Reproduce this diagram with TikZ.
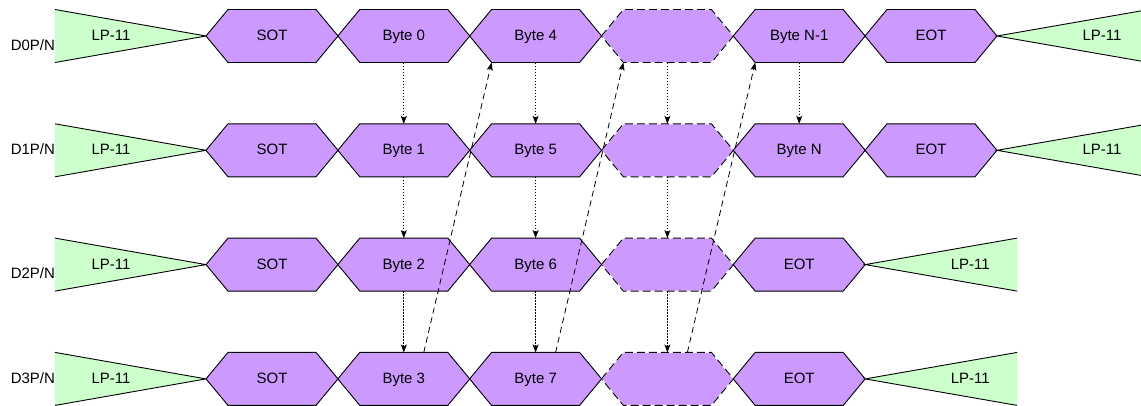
\documentclass[tikz,border=0pt]{standalone}
\usepackage{fontspec}
\setmainfont{Liberation Sans}
\usetikzlibrary{arrows.meta}
\definecolor{hexfill}{HTML}{CC99FF}
\definecolor{lpfill}{HTML}{CCFFCC}
\newcommand\hexa[5]{%
  \path[#5] (#2-66,#3) -- (#2-44,#3-26.5) -- (#2+44,#3-26.5) -- (#2+66,#3) -- (#2+44,#3+26.5) -- (#2-44,#3+26.5) -- cycle;
  \node[hexbody] (#1) at (#2,#3) {#4};}
\newcommand\lpleft[2]{% name, cy
  \path[lpfillonly] (55,#2-26.5) -- (206,#2) -- (55,#2+26.5) -- cycle;
  \path[lpedge] (55,#2-26.5) -- (206,#2) -- (55,#2+26.5);
  \node[txt] (#1) at (111,#2) {LP-11};}
\newcommand\lpright[3]{% name, apex x, cy
  \path[lpfillonly] (#2,#3) -- (#2+152,#3-26.5) -- (#2+152,#3+26.5) -- cycle;
  \path[lpedge] (#2+152,#3-26.5) -- (#2,#3) -- (#2+152,#3+26.5);
  \node[txt] (#1) at (#2+105,#3) {LP-11};}
\begin{document}
\begin{tikzpicture}[x=1pt,y=-1pt,
  txt/.style={font=\fontsize{15}{18}\selectfont, inner sep=0pt, outer sep=0pt, text height=12pt, text depth=2.8pt},
  hexbody/.style={txt, minimum width=88pt, minimum height=53pt},
  hexline/.style={draw=black, fill=hexfill, line width=0.9pt, line join=miter},
  dashhex/.style={fill=hexfill, draw=white, line width=0.9pt,
    postaction={draw=black, line width=0.9pt, dash pattern=on 8pt off 4pt}},
  lpfillonly/.style={fill=lpfill},
  lpedge/.style={draw=black, line width=0.9pt, line join=miter},
  lane/.style={txt, anchor=east},
  down/.style={-{Stealth[length=8pt,width=6pt,inset=2pt]}, line width=0.8pt, dash pattern=on 1.5pt off 1.5pt},
  skew/.style={-{Stealth[length=8pt,width=6pt,inset=2pt]}, line width=0.8pt, dash pattern=on 6pt off 4pt}]
\useasboundingbox (0,0) rectangle (1141,405);
\clip (0,0) rectangle (1141,405);
% lane labels
\node[lane] (l0) at (55,46) {D0P/N};
\node[lane] (l1) at (55,150) {D1P/N};
\node[lane] (l2) at (55,274) {D2P/N};
\node[lane] (l3) at (55,378.5) {D3P/N};
% row 0
\lpleft{lpa0}{36}
\hexa{sot0}{272}{36}{SOT}{hexline}
\hexa{b0}{403.8}{36}{Byte 0}{hexline}
\hexa{b4}{535.6}{36}{Byte 4}{hexline}
\hexa{d0}{667.4}{36}{}{dashhex}
\hexa{bn1}{799.2}{36}{Byte N-1}{hexline}
\hexa{eot0}{931}{36}{EOT}{hexline}
\lpright{lpb0}{997}{36}
% row 1
\lpleft{lpa1}{150.3}
\hexa{sot1}{272}{150.3}{SOT}{hexline}
\hexa{b1}{403.8}{150.3}{Byte 1}{hexline}
\hexa{b5}{535.6}{150.3}{Byte 5}{hexline}
\hexa{d1}{667.4}{150.3}{}{dashhex}
\hexa{bn}{799.2}{150.3}{Byte N}{hexline}
\hexa{eot1}{931}{150.3}{EOT}{hexline}
\lpright{lpb1}{997}{150.3}
% row 2
\lpleft{lpa2}{264.6}
\hexa{sot2}{272}{264.6}{SOT}{hexline}
\hexa{b2}{403.8}{264.6}{Byte 2}{hexline}
\hexa{b6}{535.6}{264.6}{Byte 6}{hexline}
\hexa{d2}{667.4}{264.6}{}{dashhex}
\hexa{eot2}{799.2}{264.6}{EOT}{hexline}
\lpright{lpb2}{865.2}{264.6}
% row 3
\lpleft{lpa3}{378.9}
\hexa{sot3}{272}{378.9}{SOT}{hexline}
\hexa{b3}{403.8}{378.9}{Byte 3}{hexline}
\hexa{b7}{535.6}{378.9}{Byte 7}{hexline}
\hexa{d3}{667.4}{378.9}{}{dashhex}
\hexa{eot3}{799.2}{378.9}{EOT}{hexline}
\lpright{lpb3}{865.2}{378.9}
% vertical arrows
\draw[down] (b0.south) -- (b1.north);
\draw[down] (b1.south) -- (b2.north);
\draw[down] (b2.south) -- (b3.north);
\draw[down] (b4.south) -- (b5.north);
\draw[down] (b5.south) -- (b6.north);
\draw[down] (b6.south) -- (b7.north);
\draw[down] (d0.south) -- (d1.north);
\draw[down] (d1.south) -- (d2.north);
\draw[down] (d2.south) -- (d3.north);
\draw[down] (bn1.south) -- (bn.north);
% diagonal arrows
\draw[skew] ([xshift=20pt]b3.north) -- (b4.south west);
\draw[skew] ([xshift=20pt]b7.north) -- (d0.south west);
\draw[skew] ([xshift=20pt]d3.north) -- (bn1.south west);
\end{tikzpicture}
\end{document}
